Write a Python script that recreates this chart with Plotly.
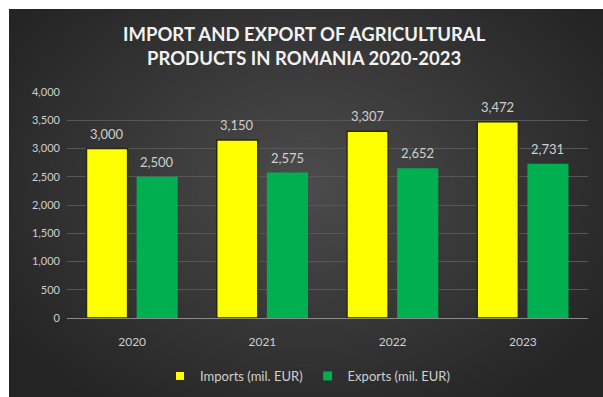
import base64
import struct
import zlib

import plotly.graph_objects as go

# Data
years = ["2020", "2021", "2022", "2023"]
imports = [3000, 3150, 3307, 3472]
exports = [2500, 2575, 2652, 2731]
y_ticks = [0, 500, 1000, 1500, 2000, 2500, 3000, 3500, 4000]

W, H = 603, 397
FRAME = 9  # white frame along the top and left edges, px
IMPORT_COLOR = "#ffff00"
EXPORT_COLOR = "#00b050"
LABEL_COLOR = "#cfcfcf"


def background_png(w, h, inner, outer, frame):
    """Full-size radial-gradient PNG (zlib only) with a white top/left frame."""
    rows = []
    cx, cy = frame + (w - frame) * 0.5, frame + (h - frame) * 0.45
    rx, ry = (w - frame) * 0.62, (h - frame) * 0.70
    for j in range(h):
        row = bytearray([0])
        for i in range(w):
            if i < frame or j < frame:
                v = 255
            else:
                dx = (i - cx) / rx
                dy = (j - cy) / ry
                t = min(1.0, (dx * dx + dy * dy) ** 0.5)
                v = int(inner + (outer - inner) * t)
            row += bytes((v, v, v))
        rows.append(bytes(row))
    raw = b"".join(rows)

    def chunk(tag, data):
        c = struct.pack(">I", len(data)) + tag + data
        return c + struct.pack(">I", zlib.crc32(tag + data) & 0xFFFFFFFF)

    png = b"\x89PNG\r\n\x1a\n"
    png += chunk(b"IHDR", struct.pack(">IIBBBBB", w, h, 8, 2, 0, 0, 0))
    png += chunk(b"IDAT", zlib.compress(raw, 9))
    png += chunk(b"IEND", b"")
    return "data:image/png;base64," + base64.b64encode(png).decode()


bg = background_png(W, H, 0x4C, 0x24, FRAME)
fmt = lambda v: f"{v:,}"

fig = go.Figure()
fig.add_trace(go.Bar(
    name="Imports (mil. EUR)", x=years, y=imports,
    marker=dict(color=IMPORT_COLOR, line=dict(color="#2a2a10", width=1.5)),
    showlegend=False,
))
fig.add_trace(go.Bar(
    name="Exports (mil. EUR)", x=years, y=exports,
    marker=dict(color=EXPORT_COLOR, line=dict(width=0)),
    showlegend=False,
))

# legend entries with small square keys
fig.add_trace(go.Scatter(
    name="Imports (mil. EUR)", x=[years[0]], y=[None], mode="markers",
    marker=dict(symbol="square", size=9, color=IMPORT_COLOR,
                line=dict(color="#2a2a10", width=1)),
))
fig.add_trace(go.Scatter(
    name="Exports (mil. EUR)", x=[years[0]], y=[None], mode="markers",
    marker=dict(symbol="square", size=9, color=EXPORT_COLOR, line=dict(width=0)),
))

# value labels above each bar; x is the category index, bars sit at -/+ half a slot
annotations = []
for series, shift in ((imports, -25), (exports, 25)):
    for i, v in enumerate(series):
        annotations.append(dict(
            x=i, y=v, xref="x", yref="y", text=fmt(v), showarrow=False,
            xshift=shift, yshift=15, yanchor="middle", xanchor="center",
            font=dict(family="Lato", size=13, color=LABEL_COLOR),
        ))

annotations.append(dict(
    text="IMPORT AND EXPORT OF AGRICULTURAL<br>PRODUCTS IN ROMANIA 2020-2023",
    x=0.505, y=1 - 46 / H, xref="paper", yref="paper",
    xanchor="center", yanchor="middle", showarrow=False,
    font=dict(family="Lato", size=18.5, color="#f2f2f2", weight="bold"),
    align="center",
))

fig.update_layout(
    width=W, height=H,
    margin=dict(l=0, r=0, t=0, b=0, pad=0),
    paper_bgcolor="#242424",
    plot_bgcolor="rgba(0,0,0,0)",
    barmode="group",
    bargap=0.23,
    bargroupgap=0.18,
    font=dict(family="Lato", color=LABEL_COLOR, size=11),
    images=[dict(
        source=bg, xref="paper", yref="paper",
        x=0, y=1, sizex=1, sizey=1,
        xanchor="left", yanchor="top", sizing="stretch", layer="below",
    )],
    xaxis=dict(
        type="category", categoryorder="array", categoryarray=years,
        range=[-0.5, len(years) - 0.5],
        domain=[67 / W, 588 / W],
        showgrid=False, showline=True, linecolor="#8a8a8a", linewidth=1,
        ticks="", tickfont=dict(color=LABEL_COLOR, size=12),
        ticklabelstandoff=13, automargin=False,
    ),
    yaxis=dict(
        domain=[1 - 318 / H, 1 - 92 / H],
        range=[0, 4000], tickvals=y_ticks,
        tickformat=",", showgrid=True, gridcolor="#575757", gridwidth=1,
        zeroline=False, showline=False, ticks="",
        tickfont=dict(color=LABEL_COLOR, size=11),
        ticklabelstandoff=6, automargin=False,
    ),
    showlegend=True,
    legend=dict(
        orientation="h", x=0.51, xanchor="center", y=1 - 376 / H, yanchor="middle",
        bgcolor="rgba(0,0,0,0)", font=dict(color=LABEL_COLOR, size=13),
        itemwidth=30, traceorder="normal",
    ),
    annotations=annotations,
)

fig.write_html("out.html")
